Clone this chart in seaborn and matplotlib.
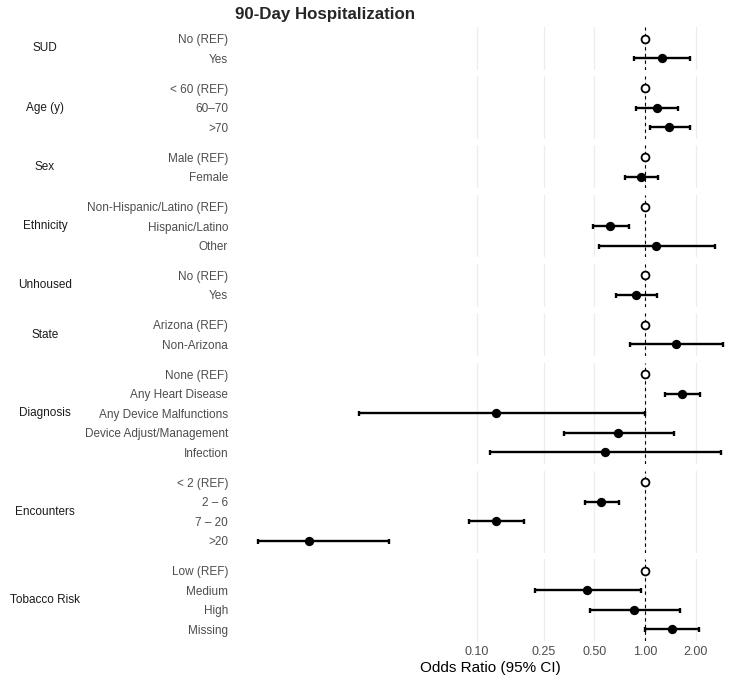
import numpy as np
import pandas as pd
import seaborn as sns
import matplotlib.pyplot as plt
import matplotlib.transforms as mtransforms

sns.set_theme(style="white")
plt.rcParams["font.family"] = ["Liberation Sans", "DejaVu Sans"]

# ----------------------------
# data
# ----------------------------
group_order = ["SUD", "Age (y)", "Sex", "Ethnicity", "Unhoused", "State",
               "Diagnosis", "Encounters", "Tobacco Risk"]

row_group = (["SUD"] * 2 + ["Age (y)"] * 3 + ["Sex"] * 2 + ["Ethnicity"] * 3 +
             ["Unhoused"] * 2 + ["State"] * 2 + ["Diagnosis"] * 5 +
             ["Encounters"] * 4 + ["Tobacco Risk"] * 4)

row_label = [
    "No (REF)", "Yes",
    "< 60 (REF)", "60\u201370", ">70",
    "Male (REF)", "Female",
    "Non-Hispanic/Latino (REF)", "Hispanic/Latino", "Other",
    "No (REF)", "Yes",
    "Arizona (REF)", "Non-Arizona",
    "None (REF)", "Any Heart Disease", "Any Device Malfunctions",
    "Device Adjust/Management", "Infection",
    "< 2 (REF)", "2 \u2013 6", "7 \u2013 20", ">20",
    "Low (REF)", "Medium", "High", "Missing",
]

is_ref = [True, False,
          True, False, False,
          True, False,
          True, False, False,
          True, False,
          True, False,
          True, False, False, False, False,
          True, False, False, False,
          True, False, False, False]

odds_ratio = [1.00, 1.26,
              1.00, 1.17, 1.39,
              1.00, 0.94,
              1.00, 0.62, 1.16,
              1.00, 0.88,
              1.00, 1.53,
              1.00, 1.66, 0.13, 0.69, 0.58,
              1.00, 0.55, 0.13, 0.010,
              1.00, 0.45, 0.86, 1.44]

ci_low = [np.nan, 0.86,
          np.nan, 0.88, 1.07,
          np.nan, 0.76,
          np.nan, 0.49, 0.53,
          np.nan, 0.67,
          np.nan, 0.81,
          np.nan, 1.32, 0.020, 0.33, 0.12,
          np.nan, 0.44, 0.090, 0.0050,
          np.nan, 0.22, 0.47, 1.00]

ci_high = [np.nan, 1.85,
           np.nan, 1.58, 1.85,
           np.nan, 1.19,
           np.nan, 0.80, 2.62,
           np.nan, 1.17,
           np.nan, 2.90,
           np.nan, 2.12, 1.00, 1.49, 2.82,
           np.nan, 0.70, 0.19, 0.030,
           np.nan, 0.95, 1.62, 2.10]

x_breaks = [0.10, 0.25, 0.50, 1.00, 2.00]

df = pd.DataFrame({
    "group": row_group, "label": row_label, "ref": is_ref,
    "or": odds_ratio, "lo": ci_low, "hi": ci_high,
})
df["pos"] = df.groupby("group", sort=False).cumcount()

# x limits like ggplot (5% expansion in log space)
lx = np.log10(pd.concat([df["or"], df["lo"], df["hi"]]).dropna())
span = lx.max() - lx.min()
xlim = (10 ** (lx.min() - 0.05 * span), 10 ** (lx.max() + 0.05 * span))

sizes = df.groupby("group", sort=False).size().reindex(group_order)
heights = [n - 1 + 1.2 for n in sizes]

fig = plt.figure(figsize=(7.5, 6.8), dpi=100)
gs = fig.add_gridspec(len(group_order), 1, height_ratios=heights,
                      left=0.3133, right=0.9947, top=0.9603, bottom=0.0574,
                      hspace=0.105)

grey_txt = "#4d4d4d"
axes = []
for i, grp in enumerate(group_order):
    ax = fig.add_subplot(gs[i, 0], sharex=axes[0] if axes else None)
    axes.append(ax)
    sub = df[df["group"] == grp]
    n = len(sub)

    ax.set_xscale("log")
    for b in x_breaks:
        ax.axvline(b, color="#ededed", lw=0.9, zorder=0)
    ax.axvline(1.0, color="black", lw=0.8, ls=(0, (3, 3)), zorder=1)

    est = sub[~sub["ref"]]
    ax.errorbar(est["or"], est["pos"],
                xerr=[est["or"] - est["lo"], est["hi"] - est["or"]],
                fmt="none", ecolor="black", elinewidth=1.7, capsize=1.8,
                capthick=1.7, zorder=2)
    sns.scatterplot(data=est, x="or", y="pos", color="black", s=45,
                    edgecolor="black", linewidth=0, ax=ax, zorder=3)
    refs = sub[sub["ref"]]
    sns.scatterplot(data=refs, x="or", y="pos", facecolor="white",
                    edgecolor="black", linewidth=1.3, s=32, ax=ax, zorder=3)

    ax.set_ylim(n - 1 + 0.6, -0.6)
    ax.set_yticks(sub["pos"].tolist())
    ax.set_yticklabels(sub["label"].tolist(), fontsize=8.45, color=grey_txt)
    ax.tick_params(axis="y", length=0, pad=5)
    ax.set_xlim(*xlim)
    ax.set_ylabel("")
    ax.set_xlabel("")
    for s in ax.spines.values():
        s.set_visible(False)

    # strip label on the left
    trans = mtransforms.blended_transform_factory(fig.transFigure, ax.transAxes)
    ax.text(0.06, 0.5, grp, transform=trans, ha="center", va="center",
            fontsize=8.45, color="#1a1a1a")

    if i < len(group_order) - 1:
        ax.tick_params(axis="x", which="both", length=0, labelbottom=False)
    else:
        ax.set_xticks(x_breaks)
        ax.set_xticklabels([f"{b:.2f}" for b in x_breaks], fontsize=9,
                           color=grey_txt)
        ax.xaxis.set_minor_locator(plt.NullLocator())
        ax.tick_params(axis="x", which="both", length=0, pad=3.5)
        ax.set_xlabel("Odds Ratio (95% CI)", fontsize=11, color="black",
                      labelpad=2)

axes[0].set_title("90-Day Hospitalization", loc="left", fontsize=12.2,
                  fontweight="bold", pad=6)

plt.savefig("out.png", dpi=100)
plt.close()
